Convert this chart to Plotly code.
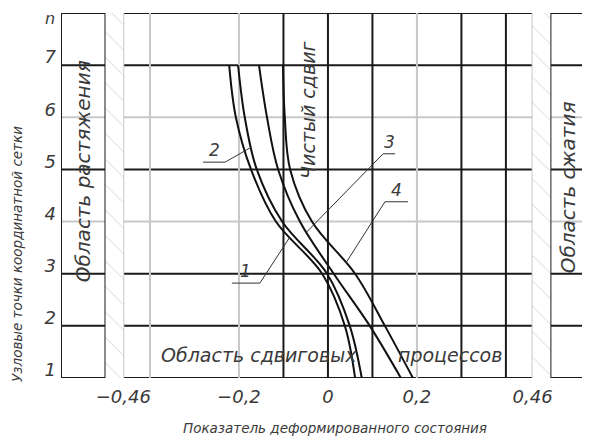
import numpy as np
import plotly.graph_objects as go

# ---- data ----
rows = [7, 6, 5, 4, 3, 2, 1]
curve1 = [-0.222, -0.207, -0.173, -0.117, -0.013, 0.038, 0.061]
curve2 = [-0.202, -0.187, -0.160, -0.103, -0.002, 0.049, 0.076]
curve3 = [-0.155, -0.137, -0.112, -0.063, 0.013, 0.094, 0.164]
curve4 = [-0.101, -0.097, -0.085, -0.036, 0.061, 0.128, 0.191]
curve_names = ["1", "2", "3", "4"]

x_tickvals = [-0.46, -0.2, 0, 0.2, 0.46]
x_ticktext = ["−0,46", "−0,2", "0", "0,2", "0,46"]
y_tickvals = [1, 2, 3, 4, 5, 6, 7]
y_ticktext = ["1", "2", "3", "4", "5", "6", "7"]
y_top_label = "n"

heavy_x = [-0.6, -0.5, -0.1, 0.0, 0.1, 0.3, 0.4, 0.5]
light_x = [-0.46, -0.4, -0.2, 0.2, 0.46]
heavy_y = [1, 2, 3, 5, 7, 8]
light_y = [4, 6]
zone_limit = 0.46
zone_outer = 0.5

FONT = "DejaVu Sans, Liberation Sans, sans-serif"
TXT = "#3a3a3a"

fig = go.Figure()

# hatched bands
for sgn in (-1, 1):
    xa, xb = sgn * zone_outer, sgn * zone_limit
    fig.add_trace(go.Scatter(
        x=[xa, xb, xb, xa, xa], y=[1, 1, 8, 8, 1], mode="lines",
        line=dict(width=0), fill="toself", fillcolor="rgba(0,0,0,0)",
        fillpattern=dict(shape="\\", size=18, solidity=0.05, fgcolor="#a8a8a8", bgcolor="white"),
        hoverinfo="skip", showlegend=False))

shapes = []
for xv in light_x:
    shapes.append(dict(type="line", xref="x", yref="y", x0=xv, x1=xv, y0=1, y1=8,
                       line=dict(color="#c8c8c8", width=2), layer="below"))
for yv in light_y:
    shapes.append(dict(type="line", xref="paper", yref="y", x0=0, x1=1, y0=yv, y1=yv,
                       line=dict(color="#c8c8c8", width=2), layer="below"))
for xv in heavy_x:
    shapes.append(dict(type="line", xref="x", yref="y", x0=xv, x1=xv, y0=1, y1=8,
                       line=dict(color="#1a1a1a", width=2), layer="below"))
for yv in heavy_y:
    shapes.append(dict(type="line", xref="paper", yref="y", x0=0, x1=1, y0=yv, y1=yv,
                       line=dict(color="#1a1a1a", width=2), layer="below"))

curves = [curve1, curve2, curve3, curve4]
for name, xs in zip(curve_names, curves):
    fig.add_trace(go.Scatter(x=xs, y=rows, mode="lines", name=name,
                             line=dict(color="#111111", width=2, shape="spline", smoothing=1.0),
                             showlegend=False, hoverinfo="skip"))

def on_curve(xs, yv):
    return float(np.interp(yv, rows[::-1], xs[::-1]))

# leader lines: (curve index, y on curve, elbow x, elbow y, underline end x)
leaders = [
    (0, 3.70, -0.153, 2.82, -0.216),
    (1, 5.43, -0.231, 5.14, -0.281),
    (2, 3.80, 0.124, 5.30, 0.151),
    (3, 3.21, 0.128, 4.38, 0.180),
]
annotations = []
for ci, yc, ex, ey, ux in leaders:
    xc = on_curve(curves[ci], yc)
    fig.add_trace(go.Scatter(x=[xc, ex, ux], y=[yc, ey, ey], mode="lines",
                             line=dict(color="#333", width=1), showlegend=False, hoverinfo="skip"))
    annotations.append(dict(x=(ex + ux) / 2, y=ey, xref="x", yref="y", text=curve_names[ci],
                            showarrow=False, yanchor="bottom", yshift=0,
                            font=dict(family=FONT, size=17, color=TXT, style="italic")))

def txt(x, y, s, size, angle=0, xref="x", yref="y", **kw):
    d = dict(x=x, y=y, xref=xref, yref=yref, text=s, showarrow=False, textangle=angle,
             xanchor="center", yanchor="middle",
             font=dict(family=FONT, size=size, color=TXT, style="italic"))
    d.update(kw)
    annotations.append(d)

txt(-0.55, 4.97, "Область растяжения", 20, -90)
txt(0.54, 4.66, "Область сжатия", 20, -90)
txt(-0.045, 6.14, "Чистый сдвиг", 19, -90)
txt(0.07, 1.44, "Область сдвиговых", 19, xanchor="right")
txt(0.152, 1.44, "процессов", 19, xanchor="left")
txt(0, 0.34, "Узловые точки координатной сетки", 13.5, -90, xref="paper", yref="paper", xshift=-44)
txt(0.518, -0.137, "Показатель деформированного состояния", 13.5, xref="paper", yref="paper")
txt(0, 8, y_top_label, 16, xref="paper", yref="y", xanchor="right", xshift=-4, yshift=-5)

fig.update_layout(
    width=582, height=433,
    margin=dict(l=53, r=0, t=5, b=63, autoexpand=False),
    paper_bgcolor="white", plot_bgcolor="white",
    shapes=shapes, annotations=annotations,
    xaxis=dict(range=[-0.6, 0.589], showgrid=False, zeroline=False, showline=False,
               automargin=False,
               tickvals=x_tickvals, ticktext=x_ticktext, ticks="", ticklabelstandoff=6,
               tickfont=dict(family=FONT, size=18, color=TXT, style="italic")),
    yaxis=dict(range=[1, 8], showgrid=False, zeroline=False, showline=False,
               automargin=False,
               tickvals=y_tickvals, ticktext=y_ticktext, ticks="", ticklabelstandoff=4,
               ticklabelshift=-8,
               tickfont=dict(family=FONT, size=18, color=TXT, style="italic")),
)
fig.write_html("out.html")
